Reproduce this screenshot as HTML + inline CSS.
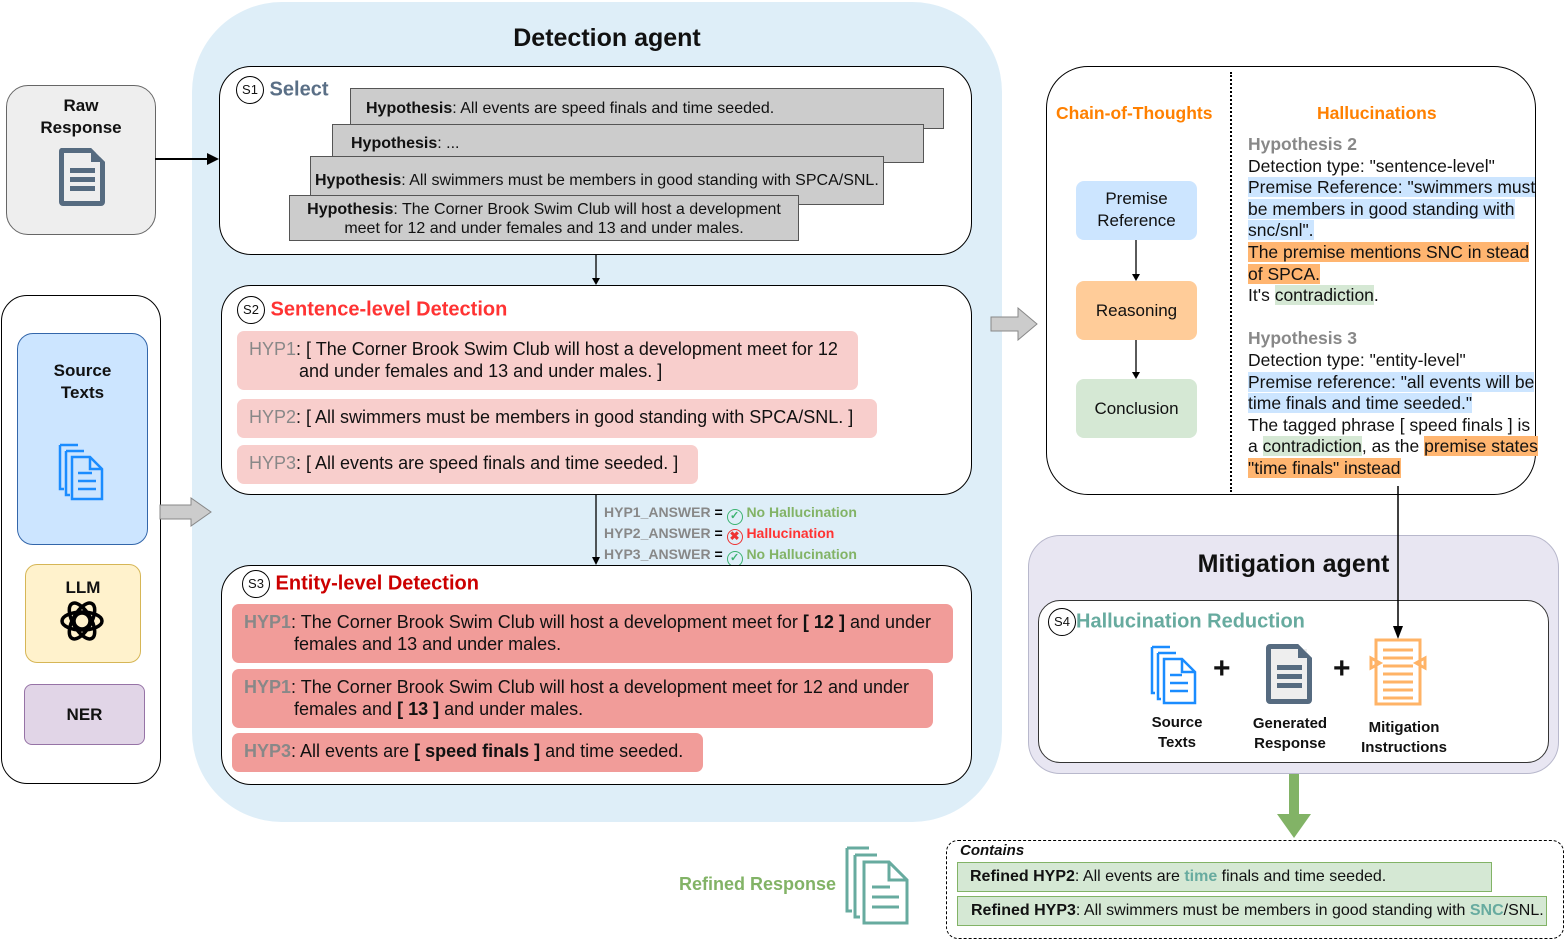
<!DOCTYPE html>
<html><head><meta charset="utf-8"><style>
*{margin:0;padding:0;box-sizing:border-box}
body{width:1565px;height:940px;position:relative;background:#fff;font-family:"Liberation Sans",Arial,sans-serif;overflow:hidden;color:#111}
.a{position:absolute}
.card{position:absolute;background:#cccccc;border:1px solid #555;font-size:16px;text-align:center}
.pill{position:absolute;border-radius:7px;font-size:18px;line-height:22px;padding:7px 12px;white-space:nowrap}
.s{display:inline-block;width:28px;height:28px;border:1px solid #000;border-radius:50%;font-size:13px;text-align:center;line-height:26px;background:#fff;color:#111;font-weight:normal;vertical-align:middle}
.hl{font-size:17.5px;line-height:21.6px}
.b{background:#cce5ff}.o{background:#ffb570}.g{background:#d5e8d4}
.ans{font-size:14px;font-weight:bold;color:#888}
.ans div{height:21px;line-height:21px;white-space:nowrap}
.ic{display:inline-block;width:16px;height:16px;border-radius:50%;font-size:11px;text-align:center;line-height:13px;vertical-align:-2px}
</style></head><body>
<div class="a" style="left:192px;top:2px;width:810px;height:820px;background:#deeef8;border-radius:90px"></div>
<div class="a" style="left:192px;top:24px;width:830px;text-align:center;font-size:25px;font-weight:bold">Detection agent</div>

<div class="a" style="left:6px;top:85px;width:150px;height:150px;background:#eeeeee;border:1px solid #666;border-radius:22px;text-align:center;font-weight:bold;font-size:17px;line-height:22px;padding-top:9px">Raw<br>Response</div>
<svg class="a" style="left:57px;top:146px" width="52" height="62"><path d="M4 2 H34 L48 16 V56 a4 4 0 0 1 -4 4 H6 a4 4 0 0 1 -4 -4 V6 a4 4 0 0 1 2 -4Z" fill="#566b80"/><rect x="7" y="7" width="36" height="48" fill="#eeeeee"/><path d="M34 2 V16 H48" fill="#566b80"/><rect x="13" y="22" width="25" height="5" fill="#566b80"/><rect x="13" y="31" width="25" height="5" fill="#566b80"/><rect x="13" y="40" width="25" height="5" fill="#566b80"/></svg>
<svg class="a" style="left:155px;top:150px" width="66" height="18"><line x1="0" y1="9" x2="56" y2="9" stroke="#000" stroke-width="2"/><path d="M52 3 L64 9 L52 15Z" fill="#000"/></svg>

<div class="a" style="left:1px;top:295px;width:160px;height:489px;border:1px solid #000;border-radius:26px"></div>
<div class="a" style="left:17px;top:333px;width:131px;height:212px;background:#cce5ff;border:1px solid #36a;border-radius:16px;text-align:center;font-weight:bold;font-size:17px;line-height:22px;padding-top:26px">Source<br>Texts</div>
<svg class="a" style="left:58px;top:443px" width="48" height="58"><g fill="none" stroke="#1a8cff" stroke-width="2.5"><path d="M2 2 H20 M2 2 V46 H6"/><path d="M8 8 H26 M8 8 V52 H12"/><path d="M14 14 H32 L44 26 V56 H14Z"/><path d="M32 14 V26 H44"/><path d="M20 30 H34 M20 38 H38 M20 46 H38"/></g></svg>
<div class="a" style="left:25px;top:564px;width:116px;height:99px;background:#fff2cc;border:1px solid #d6b656;border-radius:12px;text-align:center;font-weight:bold;font-size:17px;padding-top:13px">LLM</div>
<svg class="a" style="left:59px;top:598px" width="46" height="46" viewBox="0 0 46 46"><g fill="none" stroke="#000" stroke-width="3.5"><circle cx="23" cy="23" r="8"/><ellipse cx="23" cy="23" rx="20" ry="9"/><ellipse cx="23" cy="23" rx="20" ry="9" transform="rotate(60 23 23)"/><ellipse cx="23" cy="23" rx="20" ry="9" transform="rotate(120 23 23)"/></g></svg>
<div class="a" style="left:24px;top:684px;width:121px;height:61px;background:#e1d5e7;border:1px solid #9673a6;border-radius:8px;text-align:center;font-weight:bold;font-size:17px;line-height:59px">NER</div>
<svg class="a" style="left:159px;top:497px" width="54" height="30"><path d="M1 8 H32 V1 L52 15 L32 29 V22 H1Z" fill="#ccc" stroke="#888"/></svg>

<div class="a" style="left:219px;top:66px;width:753px;height:189px;background:#fff;border:1px solid #000;border-radius:32px"></div>
<div class="a" style="left:236px;top:76px;font-size:20px;font-weight:bold;color:#5a6f86"><span class="s">S1</span> Select</div>
<div class="card" style="left:350px;top:88px;width:594px;height:41px;line-height:40px;text-align:left;padding-left:15px"><b>Hypothesis</b>: All events are speed finals and time seeded.</div>
<div class="card" style="left:332px;top:124px;width:592px;height:39px;line-height:38px;text-align:left;padding-left:18px"><b>Hypothesis</b>: ...</div>
<div class="card" style="left:310px;top:156px;width:574px;height:49px;line-height:48px;text-align:left;padding-left:4px;white-space:nowrap"><b>Hypothesis</b>: All swimmers must be members in good standing with SPCA/SNL.</div>
<div class="card" style="left:289px;top:195px;width:510px;height:46px;line-height:19px;padding-top:4px;white-space:nowrap"><b>Hypothesis</b>: The Corner Brook Swim Club will host a development<br>meet for 12 and under females and 13 and under males.</div>
<svg class="a" style="left:589px;top:254px" width="14" height="32"><line x1="7" y1="0" x2="7" y2="26" stroke="#000" stroke-width="1.3"/><path d="M3 24 L7 31 L11 24Z" fill="#000"/></svg>

<div class="a" style="left:221px;top:285px;width:751px;height:210px;background:#fff;border:1px solid #000;border-radius:30px"></div>
<div class="a" style="left:237px;top:296px;font-size:20px;font-weight:bold;color:#f33"><span class="s">S2</span> Sentence-level Detection</div>
<div class="pill" style="left:237px;top:331px;width:621px;height:59px;background:#f8cecc"><span style="color:#888">HYP1</span>: [ The Corner Brook Swim Club will host a development meet for 12<br>&nbsp;&nbsp;&nbsp;&nbsp;&nbsp;&nbsp;&nbsp;&nbsp;&nbsp;&nbsp;and under females and 13 and under males. ]</div>
<div class="pill" style="left:237px;top:399px;width:640px;height:39px;background:#f8cecc"><span style="color:#888">HYP2</span>: [ All swimmers must be members in good standing with SPCA/SNL. ]</div>
<div class="pill" style="left:237px;top:445px;width:461px;height:39px;background:#f8cecc"><span style="color:#888">HYP3</span>: [ All events are speed finals and time seeded. ]</div>
<svg class="a" style="left:589px;top:494px" width="14" height="72"><line x1="7" y1="0" x2="7" y2="66" stroke="#000" stroke-width="1.3"/><path d="M3 63 L7 71 L11 63Z" fill="#000"/></svg>
<div class="a ans" style="left:604px;top:502px">
<div>HYP1_ANSWER <span style="color:#000">=</span> <span class="ic" style="border:1.5px solid #3cb371;color:#3cb371">✓</span> <span style="color:#82b366">No Hallucination</span></div>
<div>HYP2_ANSWER <span style="color:#000">=</span> <span class="ic" style="border:1.5px solid #e33;color:#e33;font-size:12px">✖</span> <span style="color:#f33">Hallucination</span></div>
<div>HYP3_ANSWER <span style="color:#000">=</span> <span class="ic" style="border:1.5px solid #3cb371;color:#3cb371">✓</span> <span style="color:#82b366">No Hallucination</span></div></div>

<div class="a" style="left:221px;top:565px;width:751px;height:220px;background:#fff;border:1px solid #000;border-radius:30px"></div>
<div class="a" style="left:242px;top:570px;font-size:20px;font-weight:bold;color:#c00"><span class="s">S3</span> Entity-level Detection</div>
<div class="pill" style="left:232px;top:604px;width:721px;height:59px;background:#f19c99"><span style="color:#888;font-weight:bold">HYP1</span>: The Corner Brook Swim Club will host a development meet for <b>[ 12 ]</b> and under<br>&nbsp;&nbsp;&nbsp;&nbsp;&nbsp;&nbsp;&nbsp;&nbsp;&nbsp;&nbsp;females and 13 and under males.</div>
<div class="pill" style="left:232px;top:669px;width:701px;height:59px;background:#f19c99"><span style="color:#888;font-weight:bold">HYP1</span>: The Corner Brook Swim Club will host a development meet for 12 and under<br>&nbsp;&nbsp;&nbsp;&nbsp;&nbsp;&nbsp;&nbsp;&nbsp;&nbsp;&nbsp;females and <b>[ 13 ]</b> and under males.</div>
<div class="pill" style="left:232px;top:733px;width:471px;height:39px;background:#f19c99"><span style="color:#888;font-weight:bold">HYP3</span>: All events are <b>[ speed finals ]</b> and time seeded.</div>

<svg class="a" style="left:990px;top:307px" width="50" height="34"><path d="M1 10 H28 V1 L47 17 L28 33 V24 H1Z" fill="#ccc" stroke="#888"/></svg>

<div class="a" style="left:1046px;top:66px;width:490px;height:429px;border:1px solid #000;border-radius:42px;background:#fff"></div>
<div class="a" style="left:1230px;top:72px;height:420px;border-left:2px dotted #000"></div>
<div class="a" style="left:1056px;top:103px;font-size:17.5px;font-weight:bold;color:#ff8000">Chain-of-Thoughts</div>
<div class="a" style="left:1317px;top:103px;font-size:17.5px;font-weight:bold;color:#ff8000">Hallucinations</div>
<div class="a" style="left:1076px;top:181px;width:121px;height:59px;background:#cce5ff;border-radius:8px;text-align:center;font-size:17px;line-height:22px;padding-top:7px">Premise<br>Reference</div>
<div class="a" style="left:1076px;top:281px;width:121px;height:59px;background:#ffcc99;border-radius:8px;text-align:center;font-size:17px;line-height:59px">Reasoning</div>
<div class="a" style="left:1076px;top:379px;width:121px;height:59px;background:#d5e8d4;border-radius:8px;text-align:center;font-size:17px;line-height:59px">Conclusion</div>
<svg class="a" style="left:1129px;top:240px" width="14" height="140"><line x1="7" y1="0" x2="7" y2="36" stroke="#000" stroke-width="1.3"/><path d="M3 34 L7 41 L11 34Z" fill="#000"/><line x1="7" y1="100" x2="7" y2="134" stroke="#000" stroke-width="1.3"/><path d="M3 132 L7 139 L11 132Z" fill="#000"/></svg>
<div class="a hl" style="left:1248px;top:134px;width:292px">
<b style="color:#888">Hypothesis 2</b><br>Detection type: "sentence-level"<br><span class="b">Premise Reference: "swimmers must be members in good standing with snc/snl".</span><br><span class="o">The premise mentions SNC in stead of SPCA.</span><br>It's <span class="g">contradiction</span>.<br><br>
<b style="color:#888">Hypothesis 3</b><br>Detection type: "entity-level"<br><span class="b">Premise reference: "all events will be time finals and time seeded."</span><br>The tagged phrase [ speed finals ] is a <span class="g">contradiction</span>, as the <span class="o">premise states "time finals" instead</span></div>

<div class="a" style="left:1028px;top:535px;width:531px;height:239px;background:#e8e6f2;border:1px solid #b8b8cc;border-radius:32px"></div>
<div class="a" style="left:1028px;top:550px;width:531px;text-align:center;font-size:25px;font-weight:bold">Mitigation agent</div>
<div class="a" style="left:1038px;top:600px;width:511px;height:163px;background:#fff;border:1px solid #333;border-radius:22px"></div>
<div class="a" style="left:1048px;top:608px;font-size:20px;font-weight:bold;color:#67ab9f"><span class="s">S4</span>Hallucination Reduction</div>
<svg class="a" style="left:1391px;top:486px" width="14" height="155"><line x1="7" y1="0" x2="7" y2="146" stroke="#000" stroke-width="1.5"/><path d="M2 140 L7 153 L12 140Z" fill="#000"/></svg>
<svg class="a" style="left:1148px;top:645px" width="52" height="60"><g fill="none" stroke="#1a8cff" stroke-width="2.5"><path d="M4 2 H22 M4 2 V48 H7"/><path d="M10 8 H28 M10 8 V54 H13"/><path d="M16 14 H34 L47 27 V58 H16Z"/><path d="M34 14 V27 H47"/><path d="M22 30 H34 M22 38 H40 M22 46 H40"/></g></svg>
<div class="a" style="left:1213px;top:652px;font-size:30px;font-weight:bold">+</div>
<svg class="a" style="left:1264px;top:642px" width="52" height="64"><path d="M6 2 H34 L48 16 V58 a4 4 0 0 1 -4 4 H6 a4 4 0 0 1 -4 -4 V6 a4 4 0 0 1 4 -4Z" fill="#566b80"/><rect x="7" y="7" width="36" height="50" fill="#eee"/><path d="M34 2 V16 H48" fill="#566b80"/><rect x="13" y="23" width="25" height="5" fill="#566b80"/><rect x="13" y="32" width="25" height="5" fill="#566b80"/><rect x="13" y="41" width="25" height="5" fill="#566b80"/></svg>
<div class="a" style="left:1333px;top:652px;font-size:30px;font-weight:bold">+</div>
<svg class="a" style="left:1368px;top:638px" width="62" height="70"><g fill="none" stroke="#ffb366" stroke-width="3"><rect x="8" y="2" width="44" height="64"/><path d="M15 12 H45 M15 20 H45 M15 28 H45 M15 36 H45 M15 44 H45 M15 52 H45 M15 60 H45"/><path d="M3 20 L12 25 L3 30Z M57 20 L48 25 L57 30Z"/></g></svg>
<div class="a" style="left:1137px;top:713px;width:80px;text-align:center;font-size:15px;font-weight:bold;line-height:20px">Source<br>Texts</div>
<div class="a" style="left:1240px;top:714px;width:100px;text-align:center;font-size:15px;font-weight:bold;line-height:20px">Generated<br>Response</div>
<div class="a" style="left:1348px;top:718px;width:112px;text-align:center;font-size:15px;font-weight:bold;line-height:20px">Mitigation<br>Instructions</div>

<svg class="a" style="left:1276px;top:774px" width="36" height="66"><rect x="13" y="0" width="10" height="42" fill="#82b366"/><path d="M1 40 H35 L18 64Z" fill="#82b366"/></svg>

<div class="a" style="left:946px;top:840px;width:618px;height:99px;border:1px dashed #000;border-radius:12px"></div>
<div class="a" style="left:960px;top:842px;font-size:15px;font-weight:bold;font-style:italic">Contains</div>
<div class="a" style="left:957px;top:862px;width:535px;height:30px;background:#d5e8d4;border:1px solid #82b366;font-size:16px;line-height:28px;padding-left:12px;white-space:nowrap"><b>Refined HYP2</b>: All events are <b style="color:#67ab9f">time</b> finals and time seeded.</div>
<div class="a" style="left:957px;top:896px;width:590px;height:30px;background:#d5e8d4;border:1px solid #82b366;font-size:16px;line-height:28px;padding-left:13px;white-space:nowrap"><b>Refined HYP3</b>: All swimmers must be members in good standing with <b style="color:#67ab9f">SNC</b>/SNL.</div>
<div class="a" style="left:679px;top:874px;font-size:18px;font-weight:bold;color:#82b366">Refined Response</div>
<svg class="a" style="left:843px;top:845px" width="70" height="82"><g fill="none" stroke="#67ab9f" stroke-width="3"><path d="M4 3 H26 M4 3 V66 H9"/><path d="M12 10 H34 M12 10 V72 H17"/><path d="M21 17 H46 L64 35 V78 H21Z"/><path d="M46 17 V35 H64"/><path d="M29 42 H47 M29 52 H56 M29 62 H56"/></g></svg>
</body></html>
